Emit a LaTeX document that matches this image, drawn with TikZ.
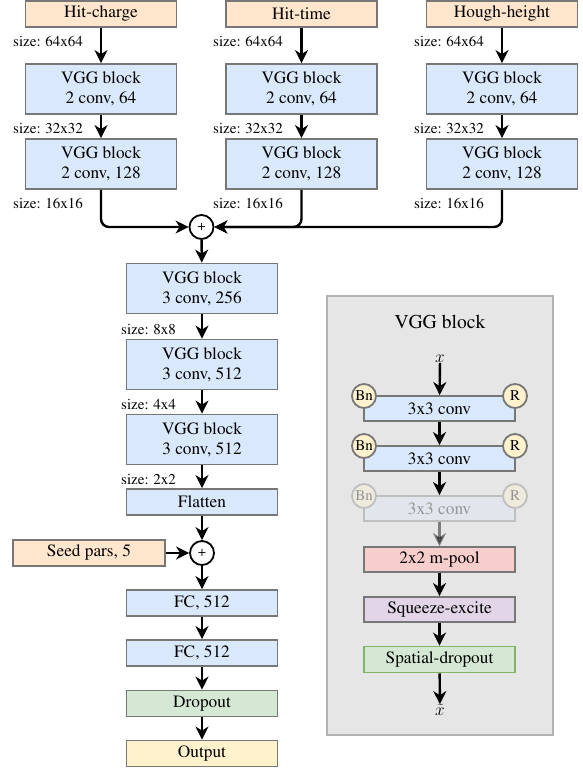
\documentclass[tikz,border=0pt]{standalone}
\usepackage[T1]{fontenc}
\renewcommand{\rmdefault}{ptm}
\usetikzlibrary{arrows.meta}
\definecolor{bord}{HTML}{777777}
\definecolor{peach}{HTML}{FFE6CC}
\definecolor{bluef}{HTML}{DAE8FC}
\definecolor{greenf}{HTML}{D5E8D4}
\definecolor{yelf}{HTML}{FFF2CC}
\definecolor{pinkf}{HTML}{F8CECC}
\definecolor{purpf}{HTML}{E1D5E7}
\definecolor{greenb}{HTML}{82B366}
\definecolor{panelf}{HTML}{E6E6E6}
\definecolor{panelb}{HTML}{B3B3B3}
\tikzset{
  box/.style={draw=bord, line width=1.8pt, minimum width=151pt, inner sep=0pt, align=center,
    font=\fontsize{17.3}{20}\selectfont},
  two/.style={box, minimum height=50pt, fill=bluef},
  one/.style={box, minimum height=26pt},
  thin/.style={box, minimum height=25pt},
  lab/.style={anchor=west, inner sep=0pt, font=\fontsize{15}{18}\selectfont},
  arr/.style={-{Stealth[length=13pt,width=13pt,inset=4pt]}, line width=2.4pt},
  plusc/.style={circle, draw=black, line width=1.8pt, fill=white, minimum size=24pt, inner sep=0pt,
    font=\fontsize{14}{14}\selectfont},
  badge/.style={circle, draw=bord, line width=1.8pt, fill=yelf, minimum size=24pt, inner sep=0pt,
    font=\fontsize{15}{15}\selectfont},
}
\begin{document}
\begin{tikzpicture}[x=1pt,y=-1pt]
\useasboundingbox (0,0) rectangle (582,770);

% inputs
\node[one, fill=peach] (hc) at (101,14) {Hit-charge};
\node[one, fill=peach] (ht) at (301.5,14) {Hit-time};
\node[one, fill=peach] (hh) at (502,14) {Hough-height};

\node[two] (a1) at (101,89) {VGG block\\2 conv, 64};
\node[two] (a2) at (301.5,89) {VGG block\\2 conv, 64};
\node[two] (a3) at (502,89) {VGG block\\2 conv, 64};
\node[two] (b1) at (101,164) {VGG block\\2 conv, 128};
\node[two] (b2) at (301.5,164) {VGG block\\2 conv, 128};
\node[two] (b3) at (502,164) {VGG block\\2 conv, 128};

\node[lab] (s11) at (13,41) {size: 64x64};
\node[lab] (s12) at (13,128) {size: 32x32};
\node[lab] (s13) at (13,203) {size: 16x16};
\node[lab] (s21) at (213,41) {size: 64x64};
\node[lab] (s22) at (213,128) {size: 32x32};
\node[lab] (s23) at (213,203) {size: 16x16};
\node[lab] (s31) at (414,41) {size: 64x64};
\node[lab] (s32) at (414,128) {size: 32x32};
\node[lab] (s33) at (414,203) {size: 16x16};

\draw[arr] (hc) -- (a1);
\draw[arr] (ht) -- (a2);
\draw[arr] (hh) -- (a3);
\draw[arr] (a1) -- (b1);
\draw[arr] (a2) -- (b2);
\draw[arr] (a3) -- (b3);

\node[plusc] (p1) at (201.5,227) {+};
\draw[arr, rounded corners=8pt] (b1.south) |- (p1.west);
\draw[arr, rounded corners=8pt] (b3.south) |- (p1.east);
\draw[arr, rounded corners=8pt] (b2.south) |- (p1.east);

% main column
\node[two] (c1) at (202,288.5) {VGG block\\3 conv, 256};
\node[two] (c2) at (202,364.5) {VGG block\\3 conv, 512};
\node[two] (c3) at (202,439.5) {VGG block\\3 conv, 512};
\node[one, fill=bluef] (fl) at (202,502) {Flatten};
\node[lab] (s4) at (121,329) {size: 8x8};
\node[lab] (s5) at (121,404) {size: 4x4};
\node[lab] (s6) at (121,479) {size: 2x2};

\draw[arr] (p1) -- (c1);
\draw[arr] (c1) -- (c2);
\draw[arr] (c2) -- (c3);
\draw[arr] (c3) -- (fl);

\node[plusc] (p2) at (202,553) {+};
\node[one, fill=peach, minimum width=152pt] (seed) at (89,553) {Seed pars, 5};
\node[one, fill=bluef] (fc1) at (202,603) {FC, 512};
\node[one, fill=bluef] (fc2) at (202,653) {FC, 512};
\node[one, fill=greenf] (dr) at (202,703.5) {Dropout};
\node[one, fill=yelf] (out) at (202,753.5) {Output};

\draw[arr] (fl) -- (p2);
\draw[arr] (seed) -- (p2);
\draw[arr] (p2) -- (fc1);
\draw[arr] (fc1) -- (fc2);
\draw[arr] (fc2) -- (dr);
\draw[arr] (dr) -- (out);

% VGG block panel
\node[draw=panelb, fill=panelf, line width=1.5pt, minimum width=226pt, minimum height=439pt, inner sep=0pt]
  (panel) at (440,515.5) {};
\node[inner sep=0pt, font=\fontsize{19.6}{22}\selectfont] (title) at (440,322) {VGG block};
\node[inner sep=0pt, font=\fontsize{17.28}{20}\selectfont] (xin) at (440,359) {$x$};

\node[thin, fill=bluef] (k1) at (439.5,408.5) {3x3 conv};
\node[badge] (bn1) at (364,396) {Bn};
\node[badge] (r1) at (515,396) {R};
\node[thin, fill=bluef] (k2) at (439.5,458.5) {3x3 conv};
\node[badge] (bn2) at (364,446) {Bn};
\node[badge] (r2) at (515,446) {R};
\begin{scope}[opacity=0.35, transparency group]
\node[thin, fill=bluef] (k3) at (439.5,508.5) {3x3 conv};
\node[badge] (bn3) at (364,496) {Bn};
\node[badge] (r3) at (515,496) {R};
\end{scope}
\node[thin, fill=pinkf] (mp) at (439.5,559.5) {2x2 m-pool};
\node[thin, fill=purpf] (se) at (439.5,609.5) {Squeeze-excite};
\node[thin, fill=greenf, draw=greenb, minimum height=26pt] (sd) at (439.5,659.5) {Spatial-dropout};
\node[inner sep=0pt, font=\fontsize{17.28}{20}\selectfont] (xout) at (440,710) {$\tilde{x}$};

\draw[arr] (xin) -- (k1);
\draw[arr] (k1) -- (k2);
\draw[arr] (k2) -- (k3);
\draw[arr, draw opacity=0.45, fill opacity=0.45] (k3) -- (mp);
\draw[arr] (mp) -- (se);
\draw[arr] (se) -- (sd);
\draw[arr] (sd) -- (xout);
\end{tikzpicture}
\end{document}
